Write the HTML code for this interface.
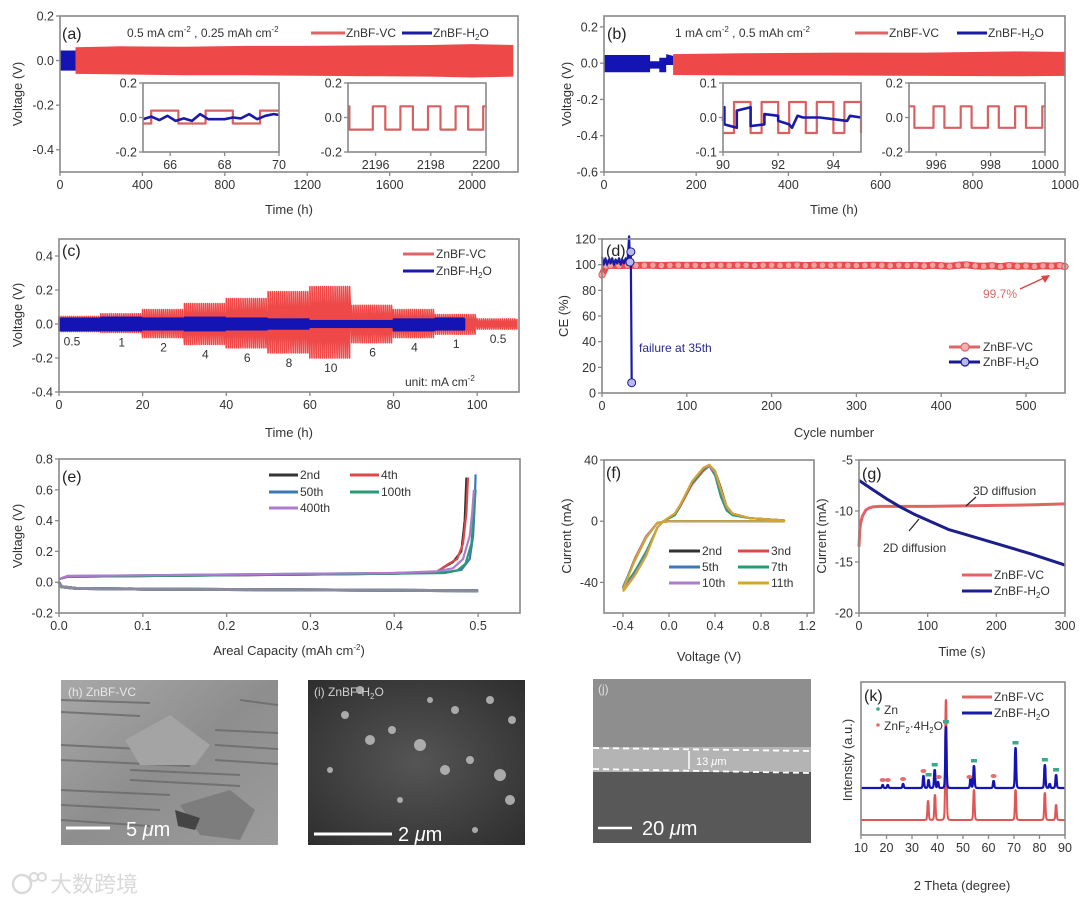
<!DOCTYPE html>
<html><head><meta charset="utf-8"><style>
html,body{margin:0;padding:0;background:#fff;}
svg{display:block;font-family:"Liberation Sans","Noto Sans CJK SC",sans-serif;}
.tl{font-size:12.5px;fill:#333;}
.tt{font-size:13px;fill:#333;}
.lg{font-size:12px;fill:#333;}
.pl{font-size:16px;fill:#222;}
</style></head><body>
<svg id="fig" width="1080" height="905" viewBox="0 0 1080 905">
<defs>
<linearGradient id="hg" x1="0" y1="0" x2="1" y2="1"><stop offset="0" stop-color="#a8a8a8"/><stop offset="0.5" stop-color="#8e8e8e"/><stop offset="1" stop-color="#9c9c9c"/></linearGradient>
<radialGradient id="ig" cx="0.5" cy="0.5" r="0.7"><stop offset="0" stop-color="#555"/><stop offset="1" stop-color="#2e2e2e"/></radialGradient>
</defs>
<g id="layerData"></g>
<g id="layerAxes"></g>

<!-- panel a text -->
<text class="pl" x="62" y="39">(a)</text>
<text class="lg" x="127" y="37">0.5 mA cm<tspan dy="-5" font-size="8">-2</tspan><tspan dy="5"> , 0.25 mAh cm</tspan><tspan dy="-5" font-size="8">-2</tspan></text>
<line x1="311" y1="33" x2="345" y2="33" stroke="#e06464" stroke-width="3"/>
<text class="lg" x="346" y="37">ZnBF-VC</text>
<line x1="402" y1="33" x2="432" y2="33" stroke="#1a1aa8" stroke-width="3"/>
<text class="lg" x="433" y="37">ZnBF-H<tspan dy="3" font-size="8">2</tspan><tspan dy="-3">O</tspan></text>
<text class="tt" x="289" y="214" text-anchor="middle">Time (h)</text>
<text class="tt" transform="translate(22,94) rotate(-90)" text-anchor="middle">Voltage (V)</text>

<!-- panel b text -->
<text class="pl" x="607" y="39">(b)</text>
<text class="lg" x="675" y="37">1 mA cm<tspan dy="-5" font-size="8">-2</tspan><tspan dy="5"> , 0.5 mAh cm</tspan><tspan dy="-5" font-size="8">-2</tspan></text>
<line x1="855" y1="33" x2="888" y2="33" stroke="#e06464" stroke-width="3"/>
<text class="lg" x="889" y="37">ZnBF-VC</text>
<line x1="957" y1="33" x2="987" y2="33" stroke="#1a1aa8" stroke-width="3"/>
<text class="lg" x="988" y="37">ZnBF-H<tspan dy="3" font-size="8">2</tspan><tspan dy="-3">O</tspan></text>
<text class="tt" x="834" y="214" text-anchor="middle">Time (h)</text>
<text class="tt" transform="translate(571,94) rotate(-90)" text-anchor="middle">Voltage (V)</text>

<!-- panel c text -->
<text class="pl" x="62" y="256">(c)</text>
<line x1="403" y1="254" x2="434" y2="254" stroke="#e06464" stroke-width="3"/>
<text class="lg" x="436" y="258">ZnBF-VC</text>
<line x1="403" y1="271" x2="434" y2="271" stroke="#1a1aa8" stroke-width="3"/>
<text class="lg" x="436" y="275">ZnBF-H<tspan dy="3" font-size="8">2</tspan><tspan dy="-3">O</tspan></text>
<text class="lg" x="405" y="386">unit: mA cm<tspan dy="-5" font-size="8">-2</tspan></text>
<g id="cLabels"></g>
<text class="tt" x="289" y="437" text-anchor="middle">Time (h)</text>
<text class="tt" transform="translate(22,315) rotate(-90)" text-anchor="middle">Voltage (V)</text>

<!-- panel d text -->
<text class="tt" x="834" y="437" text-anchor="middle">Cycle number</text>
<text class="tt" transform="translate(568,316) rotate(-90)" text-anchor="middle">CE (%)</text>
<text class="lg" x="983" y="298" fill="#d86a6a" style="fill:#d86a6a">99.7%</text>
<line x1="1020" y1="289" x2="1046" y2="277" stroke="#d44" stroke-width="1.5"/>
<polygon points="1050,275 1041,276 1045,283" fill="#d44"/>
<text class="lg" x="639" y="352" style="fill:#2a2a90">failure at 35th</text>
<line x1="949" y1="347" x2="980" y2="347" stroke="#e06464" stroke-width="3"/>
<circle cx="965" cy="347" r="4" fill="#f4b0b0" stroke="#e06464" stroke-width="1.2"/>
<text class="lg" x="983" y="351">ZnBF-VC</text>
<line x1="949" y1="362" x2="980" y2="362" stroke="#1a1a90" stroke-width="3"/>
<circle cx="965" cy="362" r="4" fill="#b8b8f0" stroke="#1a1a90" stroke-width="1.2"/>
<text class="lg" x="983" y="366">ZnBF-H<tspan dy="3" font-size="8">2</tspan><tspan dy="-3">O</tspan></text>

<!-- panel e text -->
<text class="pl" x="62" y="482">(e)</text>
<g>
<line x1="269" y1="475" x2="298" y2="475" stroke="#333" stroke-width="3"/><text class="lg" x="300" y="479">2nd</text>
<line x1="350" y1="475" x2="379" y2="475" stroke="#d94a4a" stroke-width="3"/><text class="lg" x="381" y="479">4th</text>
<line x1="269" y1="492" x2="298" y2="492" stroke="#3a78b8" stroke-width="3"/><text class="lg" x="300" y="496">50th</text>
<line x1="350" y1="492" x2="379" y2="492" stroke="#2a9a72" stroke-width="3"/><text class="lg" x="381" y="496">100th</text>
<line x1="269" y1="508" x2="298" y2="508" stroke="#b07ad0" stroke-width="3"/><text class="lg" x="300" y="512">400th</text>
</g>
<text class="tt" x="289" y="655" text-anchor="middle">Areal Capacity (mAh cm<tspan dy="-5" font-size="8">-2</tspan><tspan dy="5">)</tspan></text>
<text class="tt" transform="translate(22,536) rotate(-90)" text-anchor="middle">Voltage (V)</text>

<!-- panel f text -->
<text class="pl" x="606" y="478">(f)</text>
<g>
<line x1="669" y1="551" x2="700" y2="551" stroke="#333" stroke-width="3"/><text class="lg" x="702" y="555">2nd</text>
<line x1="738" y1="551" x2="769" y2="551" stroke="#d94a4a" stroke-width="3"/><text class="lg" x="771" y="555">3nd</text>
<line x1="669" y1="567" x2="700" y2="567" stroke="#3a78b8" stroke-width="3"/><text class="lg" x="702" y="571">5th</text>
<line x1="738" y1="567" x2="769" y2="567" stroke="#2a9a72" stroke-width="3"/><text class="lg" x="771" y="571">7th</text>
<line x1="669" y1="583" x2="700" y2="583" stroke="#b07ad0" stroke-width="3"/><text class="lg" x="702" y="587">10th</text>
<line x1="738" y1="583" x2="769" y2="583" stroke="#d4a72c" stroke-width="3"/><text class="lg" x="771" y="587">11th</text>
</g>
<text class="tt" x="709" y="661" text-anchor="middle">Voltage (V)</text>
<text class="tt" transform="translate(571,536) rotate(-90)" text-anchor="middle">Current (mA)</text>

<!-- panel g text -->
<text class="pl" x="862" y="479">(g)</text>
<text class="lg" x="973" y="495">3D diffusion</text>
<line x1="976" y1="497" x2="966" y2="506" stroke="#222" stroke-width="1.2"/>
<text class="lg" x="883" y="552">2D diffusion</text>
<line x1="909" y1="531" x2="919" y2="519" stroke="#222" stroke-width="1.2"/>
<line x1="962" y1="575" x2="992" y2="575" stroke="#e06464" stroke-width="3"/>
<text class="lg" x="994" y="579">ZnBF-VC</text>
<line x1="962" y1="591" x2="992" y2="591" stroke="#1c1f8a" stroke-width="3"/>
<text class="lg" x="994" y="595">ZnBF-H<tspan dy="3" font-size="8">2</tspan><tspan dy="-3">O</tspan></text>
<text class="tt" x="962" y="656" text-anchor="middle">Time (s)</text>
<text class="tt" transform="translate(826,536) rotate(-90)" text-anchor="middle">Current (mA)</text>

<!-- SEM images -->
<g>
<rect x="61" y="680" width="217" height="165" fill="url(#hg)"/>
<g stroke="#6a6a6a" stroke-width="2" opacity="0.8">
<line x1="61" y1="700" x2="150" y2="703"/><line x1="61" y1="712" x2="140" y2="716"/><line x1="61" y1="745" x2="200" y2="752"/><line x1="61" y1="760" x2="190" y2="766"/><line x1="61" y1="790" x2="170" y2="795"/><line x1="61" y1="805" x2="160" y2="810"/><line x1="61" y1="820" x2="150" y2="826"/><line x1="130" y1="770" x2="240" y2="775"/><line x1="130" y1="780" x2="240" y2="786"/><line x1="215" y1="730" x2="278" y2="733"/><line x1="215" y1="745" x2="278" y2="749"/><line x1="215" y1="760" x2="278" y2="764"/><line x1="240" y1="700" x2="278" y2="705"/>
</g>
<polygon points="180,805 230,790 255,810 240,840 200,835" fill="#7d7d7d"/>
<polygon points="125,740 170,715 210,745 195,765 140,765" fill="#a4a4a4"/>
<polygon points="175,810 200,818 195,830 178,826" fill="#444"/>
<text x="68" y="696" font-size="12" fill="#e6e6e6">(h)  ZnBF-VC</text>
<line x1="66" y1="828" x2="110" y2="828" stroke="#fff" stroke-width="3"/>
<text x="126" y="836" font-size="20" fill="#fff">5 <tspan font-style="italic">μ</tspan>m</text>
</g>
<g>
<rect x="308" y="680" width="217" height="165" fill="url(#ig)"/>
<g fill="#bdbdbd" opacity="0.85">
<circle cx="345" cy="715" r="4"/><circle cx="370" cy="740" r="5"/><circle cx="392" cy="730" r="4"/><circle cx="420" cy="745" r="6"/><circle cx="445" cy="770" r="5"/><circle cx="470" cy="760" r="4"/><circle cx="500" cy="775" r="6"/><circle cx="510" cy="800" r="5"/><circle cx="455" cy="710" r="4"/><circle cx="490" cy="700" r="4"/><circle cx="330" cy="770" r="3"/><circle cx="400" cy="800" r="3"/><circle cx="475" cy="830" r="3"/><circle cx="430" cy="700" r="3"/><circle cx="360" cy="690" r="4"/><circle cx="512" cy="720" r="4"/>
</g>
<text x="314" y="696" font-size="12" fill="#d0d0d0">(i)  ZnBF-H<tspan dy="3" font-size="8">2</tspan><tspan dy="-3">O</tspan></text>
<line x1="314" y1="834" x2="392" y2="834" stroke="#fff" stroke-width="3"/>
<text x="398" y="841" font-size="20" fill="#fff">2 <tspan font-style="italic">μ</tspan>m</text>
</g>
<g>
<rect x="593" y="679" width="218" height="70" fill="#8e8e8e"/>
<rect x="593" y="747" width="218" height="26" fill="#b4b4b4"/>
<rect x="593" y="772" width="218" height="71" fill="#585858"/>
<line x1="593" y1="748" x2="811" y2="751" stroke="#fff" stroke-width="1.8" stroke-dasharray="6,4"/>
<line x1="593" y1="769" x2="811" y2="773" stroke="#fff" stroke-width="1.8" stroke-dasharray="6,4"/>
<line x1="689" y1="751" x2="689" y2="769" stroke="#fff" stroke-width="1.5"/>
<text x="696" y="765" font-size="11" fill="#fff">13 <tspan font-style="italic">μ</tspan>m</text>
<text x="598" y="693" font-size="12" fill="#ddd">(j)</text>
<line x1="598" y1="828" x2="632" y2="828" stroke="#fff" stroke-width="2.5"/>
<text x="642" y="835" font-size="20" fill="#fff">20 <tspan font-style="italic">μ</tspan>m</text>
</g>

<!-- panel k text -->
<text class="pl" x="864" y="701">(k)</text>
<circle cx="878" cy="709" r="1.8" fill="#3aaa8a"/>
<text class="lg" x="884" y="714">Zn</text>
<circle cx="878" cy="725" r="1.8" fill="#e07070"/>
<text class="lg" x="884" y="730">ZnF<tspan dy="3" font-size="8">2</tspan><tspan dy="-3">·4H</tspan><tspan dy="3" font-size="8">2</tspan><tspan dy="-3">O</tspan></text>
<line x1="962" y1="697" x2="992" y2="697" stroke="#e06464" stroke-width="3"/>
<text class="lg" x="994" y="701">ZnBF-VC</text>
<line x1="962" y1="713" x2="992" y2="713" stroke="#1a1aa8" stroke-width="3"/>
<text class="lg" x="994" y="717">ZnBF-H<tspan dy="3" font-size="8">2</tspan><tspan dy="-3">O</tspan></text>
<text class="tt" x="962" y="890" text-anchor="middle">2 Theta (degree)</text>
<text class="tt" transform="translate(852,760) rotate(-90)" text-anchor="middle">Intensity (a.u.)</text>

<!-- watermark -->
<g opacity="0.55">
<circle cx="22" cy="884" r="9" fill="none" stroke="#bbb" stroke-width="2.5"/>
<circle cx="34" cy="877" r="4" fill="none" stroke="#bbb" stroke-width="2"/>
<circle cx="42" cy="877" r="4" fill="none" stroke="#bbb" stroke-width="2"/>
<text x="50" y="892" font-size="22" fill="#bbb" font-family="'Noto Sans CJK SC',sans-serif">大数跨境</text>
</g>
</svg>
<script>
// ---------- data ----------
// (a)
const aVcEnvT=[75,300,600,900,1200,1500,1800,2000,2200];
const aVcUp=[0.060,0.064,0.062,0.066,0.066,0.068,0.070,0.074,0.070];
const aVcLo=[-0.060,-0.062,-0.066,-0.066,-0.068,-0.070,-0.072,-0.076,-0.072];
const aH2oEnvT=[0,75];
const aH2oUp=[0.045,0.045];
const aH2oLo=[-0.045,-0.045];
const aIn1VcSwitch=[65.3,66.3,67.3,68.3,69.3];
const aIn1VcLevels=[-0.035,0.04];
const aIn1H2oT=[65,65.3,65.6,65.9,66.2,66.5,66.8,67.1,67.4,67.7,68.0,68.3,68.6,68.9,69.2,69.5,69.8,70];
const aIn1H2oV=[-0.01,0.005,-0.015,0.01,-0.02,-0.005,-0.02,0.02,-0.01,-0.01,-0.01,0.0,-0.005,0.02,-0.01,0.01,0.02,0.015];
const aIn2VcSwitch=[2195.05,2195.9,2196.35,2196.9,2197.35,2197.9,2198.35,2198.9,2199.35,2199.9];
const aIn2VcLevels=[-0.07,0.065];
// (b)
const bVcEnvT=[150,300,500,700,900,1000];
const bVcUp=[0.05,0.055,0.058,0.058,0.065,0.062];
const bVcLo=[-0.065,-0.068,-0.068,-0.07,-0.072,-0.07];
const bH2oEnvT=[0,100,100,120,120,135,135,150];
const bH2oUp=[0.045,0.045,0.01,0.01,0.03,0.03,0.05,0.04];
const bH2oLo=[-0.05,-0.05,-0.03,-0.03,-0.05,-0.05,-0.01,-0.01];
const bIn1VcSwitch=[90.4,91.0,91.4,92.0,92.4,93.0,93.4,94.0,94.4,95.0];
const bIn1VcLevels=[-0.045,0.045];
const bIn1H2oT=[90,90.05,90.05,90.5,90.5,91.0,91.0,91.5,91.5,92,92,92.4,92.5,92.7,92.9,93.5,94,94.5,94.6,95];
const bIn1H2oV=[-0.01,0.03,-0.02,-0.03,0.02,0.03,-0.025,-0.02,0.01,0.005,-0.01,-0.02,-0.03,0.005,0.0,0.0,-0.005,-0.01,0.005,0.0];
const bIn2VcSwitch=[995.2,995.9,996.3,996.9,997.3,997.9,998.3,998.9,999.3,999.9];
const bIn2VcLevels=[-0.06,0.065];
// (c)
const cSegStart=[0,10,20,30,40,50,60,70,80,90,100];
const cCurrents=["0.5","1","2","4","6","8","10","6","4","1","0.5"];
const cVcHi=[0.045,0.06,0.085,0.12,0.15,0.19,0.22,0.11,0.085,0.055,0.03];
const cVcLo=[-0.045,-0.05,-0.08,-0.12,-0.14,-0.17,-0.2,-0.11,-0.08,-0.06,-0.03];
const cH2oHi=[0.035,0.04,0.035,0.04,0.035,0.03,0.02,0.02,0.03,0.035];
const cH2oLo=[-0.04,-0.04,-0.035,-0.04,-0.035,-0.03,-0.02,-0.02,-0.04,-0.035];
const cH2oEnd=97;
const cLabelY=[0.095,0.078,0.055,0.02,0.01,-0.02,-0.04,0.01,0.045,0.08,0.1];
// (d)
const dVcCycles=[0,5,10,20,30,40,50,60,70,80,90,100,110,120,130,140,150,160,170,180,190,200,210,220,230,240,250,260,270,280,290,300,310,320,330,340,350,360,370,380,390,400,410,420,430,440,450,460,470,480,490,500,510,520,530,540,546];
const dVcCE=[92,99,99.5,99.3,99.6,99.4,99.5,99.6,99.3,99.5,99.6,99.4,99.5,99.3,99.6,99.5,99.4,99.6,99.5,99.3,99.5,99.6,99.4,99.5,99.7,99.3,99.6,99.5,99.4,99.6,99.5,99.3,99.4,99.6,99.5,99.2,99.6,99.3,99.5,99.0,99.6,99.2,98.8,99.5,99.8,99.0,98.7,99.2,98.5,99.3,98.8,99.0,98.6,99.1,98.9,99.3,98.5];
const dH2oCycles=[0,2,4,6,8,10,12,14,16,18,20,22,24,26,28,30,32,33,34,35];
const dH2oCE=[106,100,105,100,104,101,105,100,104,101,105,100,104,101,105,100,122,102,110,8];
// (e)
const eSeries=["2nd","4th","50th","100th","400th"];
const eCap2=[0,0.01,0.1,0.2,0.3,0.4,0.45,0.46,0.47,0.48,0.484,0.486];
const eV2=[0.02,0.035,0.04,0.045,0.05,0.055,0.065,0.1,0.13,0.2,0.4,0.68];
const eCap4=[0,0.01,0.1,0.2,0.3,0.4,0.45,0.465,0.475,0.482,0.486,0.488];
const eV4=[0.02,0.035,0.04,0.045,0.05,0.055,0.065,0.12,0.15,0.25,0.45,0.68];
const eCap50=[0,0.01,0.1,0.2,0.3,0.4,0.46,0.48,0.49,0.494,0.496,0.497];
const eV50=[0.02,0.04,0.045,0.05,0.055,0.06,0.065,0.08,0.15,0.3,0.5,0.70];
const eCap100=[0,0.01,0.1,0.2,0.3,0.4,0.46,0.475,0.485,0.492,0.495,0.497];
const eV100=[0.02,0.035,0.04,0.045,0.05,0.055,0.06,0.075,0.12,0.25,0.45,0.6];
const eCap400=[0,0.01,0.1,0.2,0.3,0.4,0.45,0.47,0.482,0.49,0.493,0.495];
const eV400=[0.02,0.04,0.045,0.05,0.055,0.06,0.07,0.09,0.15,0.3,0.45,0.6];
const eDisCap=[0,0.003,0.02,0.1,0.3,0.5];
const eDisV=[0.0,-0.03,-0.04,-0.045,-0.05,-0.055];
// (f)
const fV=[-0.4,-0.3,-0.2,-0.1,-0.05,0.05,0.1,0.2,0.3,0.35,0.4,0.45,0.5,0.55,0.7,1.0,1.0,0.5,0.0,-0.1,-0.2,-0.3,-0.4];
const fI2=[-45,-35,-22,-4,0,4,10,25,34,36,33,22,10,5,2,0.5,0,0,0,-1,-10,-25,-44];
const fI3=[-45,-34,-21,-4,0,4,10,24,33,36,32,20,9,5,2,0.5,0,0,0,-1,-10,-25,-44];
const fI5=[-44,-34,-21,-4,0,4,11,25,34,36,31,18,8,4,2,0.5,0,0,0,-1,-11,-26,-43];
const fI7=[-44,-33,-20,-4,0,4,11,25,34,36,30,16,7,4,2,0.5,0,0,0,-1,-11,-26,-43];
const fI10=[-45,-35,-22,-4,0,5,11,26,35,36,32,20,9,5,2,0.5,0,0,0,-1,-10,-26,-44];
const fI11=[-46,-36,-23,-4,0,5,11,26,35,37,33,21,10,5,2,0.5,0,0,0,-1,-11,-26,-45];
// (g)
const gTvc=[0,1,2,5,10,15,20,30,50,100,150,200,250,300];
const gIvc=[-13.5,-12,-11.3,-10.5,-9.9,-9.7,-9.6,-9.55,-9.55,-9.55,-9.5,-9.45,-9.4,-9.3];
const gTh2o=[0,20,40,60,80,100,130,150,200,250,300];
const gIh2o=[-7,-7.9,-8.8,-9.6,-10.3,-10.9,-11.8,-12.2,-13.2,-14.2,-15.3];
// (k)
const kVcPeakPos=[36.3,39.0,43.3,54.3,70.6,82.1,86.5];
const kVcPeakH=[19,25,120,30,30,27,15];
const kH2oPeakPos=[18.5,20.5,26.5,34.5,36.5,38.9,40.2,43.3,53.0,54.3,62.0,70.6,82.1,84.0,86.5];
const kH2oPeakH=[3,3,4,12,8,18,6,61,10,22,7,40,23,4,13];
const kVcBase=15, kH2oBase=47;
const kZnMarks=[36.5,38.9,43.3,54.3,70.6,82.1,86.5];
const kZnfMarks=[18.5,20.5,26.5,34.5,40.5,52.5,62.0];

// ---------- helpers ----------
const NS='http://www.w3.org/2000/svg';
const LD=document.getElementById('layerData');
const LA=document.getElementById('layerAxes');
function el(tag,attrs,parent){const e=document.createElementNS(NS,tag);for(const k in attrs)e.setAttribute(k,attrs[k]);parent.appendChild(e);return e;}
function lin(d0,d1,r0,r1){return v=>r0+(v-d0)*(r1-r0)/(d1-d0);}
function pts(xs,ys,sx,sy){return xs.map((x,i)=>sx(x).toFixed(1)+','+sy(ys[i]).toFixed(1)).join(' ');}
function axes(p){
  const sx=lin(p.xd[0],p.xd[1],p.L,p.R), sy=lin(p.yd[0],p.yd[1],p.B,p.T);
  const g=el('g',{},LA);
  
  
  p.xt.forEach((v,i)=>{
    const t=el('line',{x1:sx(v),x2:sx(v),y1:p.B,y2:p.B+4,stroke:'#888','stroke-width':1.3},g);
    
    
    const l=el('text',{x:sx(v),y:p.B+(p.xlOff||17),'text-anchor':'middle',class:'tl'},g);
    
    
    l.textContent=p.xl[i];
  });
  p.yt.forEach((v,i)=>{
    const t=el('line',{x1:p.L-4,x2:p.L,y1:sy(v),y2:sy(v),stroke:'#888','stroke-width':1.3},g);
    
    
    if(p.yl){
      const l=el('text',{x:p.L-6,y:sy(v)+4.5,'text-anchor':'end',class:'tl'},g);
      
      
      l.textContent=p.yl[i];
    }
  });
  const f=el('rect',{x:p.L,y:p.T,width:p.R-p.L,height:p.B-p.T,fill:'none',stroke:'#888','stroke-width':1.6},g);
  
  
  return {sx,sy};
}
function band(ts,up,lo,sx,sy,color,name){
  const xs=ts.concat(ts.slice().reverse()), ys=up.concat(lo.slice().reverse());
  const b=el('polygon',{points:pts(xs,ys,sx,sy),fill:color},LD);
  
  
}
function square(t0,t1,sw,lv,startIdx){
  const xs=[t0],ys=[];let s=startIdx;ys.push(lv[s]);
  sw.forEach(t=>{xs.push(t);ys.push(lv[s]);s=1-s;xs.push(t);ys.push(lv[s]);});
  xs.push(t1);ys.push(lv[s]);return [xs,ys];
}
function line(xs,ys,sx,sy,color,w,name){
  const p=el('polyline',{points:pts(xs,ys,sx,sy),fill:'none',stroke:color,'stroke-width':w,'stroke-linejoin':'round'},LD);
  
  
  return p;
}
const RED='#ef4848', BLUE='#1414b4', IRED='#d96060';

// ---------- (a) ----------
let A=axes({name:'panel-a',L:60,R:518,T:16,B:172,xd:[0,2223],yd:[-0.5,0.2],xt:[0,400,800,1200,1600,2000],xl:['0','400','800','1200','1600','2000'],yt:[0.2,0,-0.2,-0.4],yl:['0.2','0.0','-0.2','-0.4']});
band(aVcEnvT,aVcUp,aVcLo,A.sx,A.sy,RED,'a-vc-band');
band(aH2oEnvT,aH2oUp,aH2oLo,A.sx,A.sy,BLUE,'a-h2o-band');
let I=axes({name:'inset-a1',L:143,R:279,T:83,B:152,xd:[65,70],yd:[-0.2,0.2],xt:[66,68,70],xl:['66','68','70'],yt:[0.2,0,-0.2],yl:['0.2','0.0','-0.2']});
let s=square(65,70,aIn1VcSwitch,aIn1VcLevels,0); line(s[0],s[1],I.sx,I.sy,IRED,2.2,'inset-a1-vc-line');
line(aIn1H2oT,aIn1H2oV,I.sx,I.sy,'#1a1aa8',2.6,'inset-a1-h2o-line');
I=axes({name:'inset-a2',L:348,R:486,T:83,B:152,xd:[2195,2200],yd:[-0.2,0.2],xt:[2196,2198,2200],xl:['2196','2198','2200'],yt:[0.2,0,-0.2],yl:['0.2','0.0','-0.2']});
s=square(2195,2200,aIn2VcSwitch,aIn2VcLevels,1); line(s[0],s[1],I.sx,I.sy,IRED,2.2,'inset-a2-vc-line');

// ---------- (b) ----------
let B=axes({name:'panel-b',L:604,R:1065,T:16,B:172,xd:[0,1000],yd:[-0.6,0.26],xt:[0,200,400,600,800,1000],xl:['0','200','400','600','800','1000'],yt:[0.2,0,-0.2,-0.4,-0.6],yl:['0.2','0.0','-0.2','-0.4','-0.6']});
band(bVcEnvT,bVcUp,bVcLo,B.sx,B.sy,RED,'b-vc-band');
band(bH2oEnvT,bH2oUp,bH2oLo,B.sx,B.sy,BLUE,'b-h2o-band');
I=axes({name:'inset-b1',L:723,R:861,T:83,B:152,xd:[90,95],yd:[-0.1,0.1],xt:[90,92,94],xl:['90','92','94'],yt:[0.1,0,-0.1],yl:['0.1','0.0','-0.1']});
s=square(90,95,bIn1VcSwitch,bIn1VcLevels,0); line(s[0],s[1],I.sx,I.sy,IRED,2.2,'inset-b1-vc-line');
line(bIn1H2oT,bIn1H2oV,I.sx,I.sy,'#1a1aa8',2.6,'inset-b1-h2o-line');
I=axes({name:'inset-b2',L:909,R:1045,T:83,B:152,xd:[995,1000],yd:[-0.2,0.2],xt:[996,998,1000],xl:['996','998','1000'],yt:[0.2,0,-0.2],yl:['0.2','0.0','-0.2']});
s=square(995,1000,bIn2VcSwitch,bIn2VcLevels,1); line(s[0],s[1],I.sx,I.sy,IRED,2.2,'inset-b2-vc-line');

// ---------- (c) ----------
let C=axes({name:'panel-c',L:59,R:519,T:239,B:392,xd:[0,110],yd:[-0.4,0.5],xt:[0,20,40,60,80,100],xl:['0','20','40','60','80','100'],yt:[0.4,0.2,0,-0.2,-0.4],yl:['0.4','0.2','0.0','-0.2','-0.4']});
{
  const xs=[],ys=[];
  cSegStart.forEach((t0,i)=>{for(let h=0;h<10;h+=0.5){xs.push(t0+h,t0+h);ys.push(cVcLo[i],cVcHi[i]);}});
  line(xs,ys,C.sx,C.sy,RED,1.6,'c-vc-line');
  const xb=[],yb=[];
  cH2oHi.forEach((hi,i)=>{const t0=cSegStart[i];for(let h=0;h<10;h+=0.25){if(t0+h>cH2oEnd)break;xb.push(t0+h,t0+h);yb.push(cH2oLo[i],hi);}});
  line(xb,yb,C.sx,C.sy,BLUE,1.4,'c-h2o-line');
  const cl=document.getElementById('cLabels');
  cCurrents.forEach((c,i)=>{
    const t=el('text',{x:C.sx(cSegStart[i]+5)+(i===0?-8:0),y:C.sy(cVcLo[i])+ (i<7?14:14),'text-anchor':'middle',class:'lg'},LA);
    
    
    t.textContent=c;
  });
}

// ---------- (d) ----------
let D=axes({name:'panel-d',L:602,R:1065,T:239,B:393,xd:[0,546],yd:[0,120],xt:[0,100,200,300,400,500],xl:['0','100','200','300','400','500'],yt:[0,20,40,60,80,100,120],yl:['0','20','40','60','80','100','120']});
line(dVcCycles,dVcCE,D.sx,D.sy,RED,7,'d-vc-line');
dVcCycles.forEach((c,i)=>{
  const m=el('circle',{cx:D.sx(c),cy:D.sy(dVcCE[i]),r:3.2,fill:'#f2a0a0',stroke:'#e05050','stroke-width':0.8},LD);
  
  
});
line(dH2oCycles,dH2oCE,D.sx,D.sy,'#1a1aa8',2.2,'d-h2o-line');
[31,33,35].forEach(k=>{const i=dH2oCycles.indexOf(k);});
[17,18,19].forEach(i=>{
  const m=el('circle',{cx:D.sx(dH2oCycles[i]),cy:D.sy(dH2oCE[i]),r:4,fill:'#b8b8f0',stroke:'#1a1a90','stroke-width':1},LD);
  
  
});
{const t=el('text',{x:606,y:256,class:'pl'},LA);t.textContent='(d)';}

// ---------- (e) ----------
let E=axes({name:'panel-e',L:59,R:520,T:459,B:613,xd:[0,0.55],yd:[-0.2,0.8],xt:[0,0.1,0.2,0.3,0.4,0.5],xl:['0.0','0.1','0.2','0.3','0.4','0.5'],yt:[-0.2,0,0.2,0.4,0.6,0.8],yl:['-0.2','0.0','0.2','0.4','0.6','0.8']});
const eCaps=[eCap2,eCap4,eCap50,eCap100,eCap400], eVs=[eV2,eV4,eV50,eV100,eV400];
const eColors=['#333','#d94a4a','#3a78b8','#2a9a72','#b07ad0'];
eSeries.forEach((nm,i)=>{
  line(eDisCap,eDisV,E.sx,E.sy,i===4?'#8a8aa0':eColors[i],3,'e-discharge-'+nm);
  line(eCaps[i],eVs[i],E.sx,E.sy,eColors[i],2.2,'e-charge-'+nm);
});

// ---------- (f) ----------
let F=axes({name:'panel-f',L:604,R:814,T:460,B:613,xd:[-0.565,1.26],yd:[-60,40],xt:[-0.4,0,0.4,0.8,1.2],xl:['-0.4','0.0','0.4','0.8','1.2'],yt:[40,0,-40],yl:['40','0','-40']});
const fSeries=[fI2,fI3,fI5,fI7,fI10,fI11], fCols=['#333','#d94a4a','#3a78b8','#2a9a72','#b07ad0','#d4a72c'], fNames=['2nd','3nd','5th','7th','10th','11th'];
fSeries.forEach((I2,i)=>line(fV,I2,F.sx,F.sy,fCols[i],2,'f-cv-'+fNames[i]));

// ---------- (g) ----------
let G=axes({name:'panel-g',L:859,R:1065,T:460,B:613,xd:[0,300],yd:[-20,-5],xt:[0,100,200,300],xl:['0','100','200','300'],yt:[-5,-10,-15,-20],yl:['-5','-10','-15','-20']});
line(gTvc,gIvc,G.sx,G.sy,'#e06464',3,'g-vc-line');
line(gTh2o,gIh2o,G.sx,G.sy,'#1c1f8a',3,'g-h2o-line');

// ---------- (k) ----------
let K=axes({name:'panel-k',L:861,R:1065,T:682,B:835,xd:[10,90],yd:[0,153],xt:[10,20,30,40,50,60,70,80,90],xl:['10','20','30','40','50','60','70','80','90'],yt:[]});
function pattern(pos,h,base){
  const xs=[],ys=[];
  for(let t=10;t<=90.001;t+=0.1){let v=base;pos.forEach((p,i)=>{const d=(t-p)/0.3;v+=h[i]/(1+d*d*d*d);});xs.push(t);ys.push(v);}
  return [xs,ys];
}
let kp=pattern(kVcPeakPos,kVcPeakH,kVcBase); line(kp[0],kp[1],K.sx,K.sy,'#e05555',2,'k-vc-pattern');
kp=pattern(kH2oPeakPos,kH2oPeakH,kH2oBase); line(kp[0],kp[1],K.sx,K.sy,'#1414b4',2.2,'k-h2o-pattern');
kZnMarks.forEach(p=>{
  const i=kH2oPeakPos.indexOf(p);const hh=i>=0?kH2oPeakH[i]:8;
  const m=el('rect',{x:K.sx(p)-3,y:K.sy(kH2oBase+hh)-7,width:6,height:3.5,fill:'#3aaa8a'},LD);
  
  
});
kZnfMarks.forEach(p=>{
  const i=kH2oPeakPos.indexOf(p);const hh=i>=0?kH2oPeakH[i]:6;
  const m=el('ellipse',{cx:K.sx(p),cy:K.sy(kH2oBase+hh)-5,rx:3,ry:2,fill:'#e07070'},LD);
  
  
});
</script>
</body></html>
